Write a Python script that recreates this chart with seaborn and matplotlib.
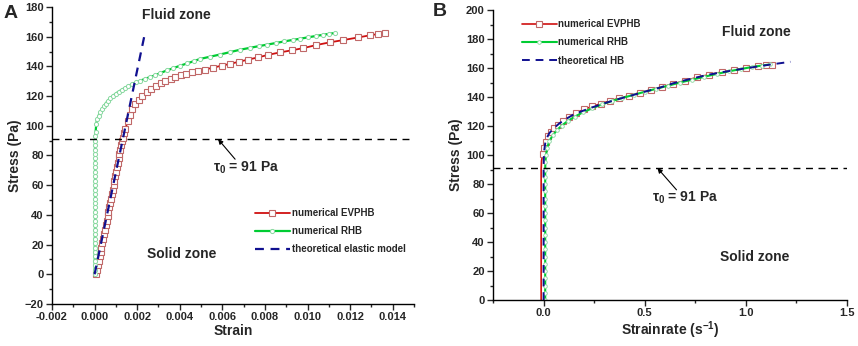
import numpy as np
import pandas as pd
import matplotlib
matplotlib.use("Agg")
import matplotlib.pyplot as plt
from matplotlib.ticker import MultipleLocator
import seaborn as sns

# ---- panel A: stress vs strain ----
evp_strain = [0.00008, 0.00012, 0.00016, 0.00020, 0.00024, 0.00028, 0.00032, 0.00036, 0.00040,
              0.00044, 0.00048, 0.00053, 0.00057, 0.00061, 0.00065, 0.00069, 0.00073, 0.00077,
              0.00081, 0.00085, 0.00089, 0.00093, 0.00097, 0.00101, 0.00105, 0.00109, 0.00113,
              0.00117, 0.00121, 0.00125, 0.00129, 0.00133,
              0.00138, 0.00145, 0.00155, 0.00165, 0.00178, 0.00192, 0.00208, 0.00225, 0.00245,
              0.00265, 0.00287, 0.00310, 0.00333, 0.00357, 0.00380, 0.00405, 0.00430, 0.00457,
              0.00488, 0.00519, 0.00558, 0.00597, 0.00636, 0.00680, 0.00722, 0.00769, 0.00816,
              0.00870, 0.00925, 0.00980, 0.01042, 0.01105, 0.01167, 0.01238, 0.01292, 0.01331,
              0.01363]
evp_stress = [0, 3, 6, 9, 12, 15, 18, 21, 24, 27, 30, 33, 36, 39, 42, 45, 48, 51, 54, 57, 60,
              63, 66, 69, 72, 75, 78, 81, 84, 87, 90, 92,
              95, 98, 103, 107, 111, 114.5, 117.5, 120, 122.5, 124.5, 126.5, 128.5, 130, 131.5,
              132.8, 134, 135, 136.2, 137.2, 137.9, 139.2, 140.5, 141.7, 143.2, 144.6, 146.1,
              147.8, 149.4, 150.8, 152.3, 154.4, 156.2, 157.7, 159.5, 160.9, 161.8, 162.5]

rhb_strain = [0.00000, 0.00001, 0.00001, 0.00001, 0.00001, 0.00001, 0.00001, 0.00001, 0.00001,
              0.00002, 0.00002, 0.00002, 0.00002, 0.00002, 0.00002, 0.00002, 0.00002, 0.00002,
              0.00002, 0.00002, 0.00002, 0.00002, 0.00002, 0.00002, 0.00002, 0.00002, 0.00002,
              0.00002, 0.00002, 0.00002, 0.00002, 0.00003,
              0.00005, 0.00008, 0.00013, 0.00019, 0.00026, 0.00034, 0.00042, 0.00052, 0.00062,
              0.00074, 0.00087, 0.00100, 0.00113, 0.00127, 0.00142, 0.00159, 0.00176, 0.00195,
              0.00215, 0.00237, 0.00260, 0.00285, 0.00308, 0.00340, 0.00370, 0.00402, 0.00435,
              0.00465, 0.00495, 0.00542, 0.00589, 0.00636, 0.00683, 0.00730, 0.00770, 0.00808,
              0.00850, 0.00890, 0.00930, 0.00964, 0.01000, 0.01040, 0.01075, 0.01100, 0.01130]
rhb_stress = [0, 3, 6, 9, 12, 15, 18, 21, 24, 27, 30, 33, 36, 39, 42, 45, 48, 51, 54, 57, 60,
              63, 66, 69, 72, 75, 78, 81, 84, 87, 90, 93,
              96, 101.5, 104.5, 106.8, 109, 111, 113, 115, 116.8, 118.7, 120.3, 121.7, 123,
              124.2, 125.5, 126.8, 128, 129.2, 130.4, 131.6, 132.8, 134, 135.5, 137.3, 138.8,
              140.5, 142, 143.5, 145, 146.5, 148, 149.6, 151.2, 152.5, 153.6, 154.6, 155.7,
              156.8, 157.8, 158.6, 159.5, 160.5, 161.3, 161.9, 162.5]

elastic_strain = [0.0, 0.00233]
elastic_stress = [0, 160]

# ---- panel B: stress vs strain rate ----
evp_rate = [-0.012, -0.012, -0.012, -0.010, -0.004, 0.002, 0.010, 0.022, 0.037, 0.052, 0.072,
            0.097, 0.127, 0.162, 0.200, 0.240, 0.285, 0.330, 0.375, 0.420, 0.475, 0.530, 0.585,
            0.640, 0.700, 0.760, 0.820, 0.880, 0.940, 1.000, 1.060, 1.100, 1.130]
evp_stress_b = [0, 50, 90, 96, 101, 105, 109, 113, 116, 118.5, 121, 123.8, 126.5, 129, 131.5,
                133.5, 135.5, 137.4, 139.2, 140.8, 143, 145, 147, 149, 151.3, 153.6, 155.5,
                157.2, 158.6, 159.9, 161.2, 161.9, 162.4]

rhb_rate = [0.008, 0.008, 0.008, 0.008, 0.008, 0.008, 0.008, 0.008, 0.008, 0.008, 0.008,
            0.008, 0.008, 0.008, 0.008, 0.008, 0.008, 0.008, 0.008, 0.009, 0.012, 0.018,
            0.028, 0.045, 0.065, 0.090, 0.120, 0.155, 0.195, 0.240, 0.290, 0.340, 0.390,
            0.445, 0.500, 0.555, 0.615, 0.675, 0.735, 0.795, 0.855, 0.915, 0.975, 1.030,
            1.080, 1.120]
rhb_stress_b = [0, 5, 10, 15, 20, 25, 30, 35, 40, 45, 50, 55, 60, 65, 70, 75, 80, 85, 90,
                95, 100, 105, 109.5, 113.5, 117, 120.3, 123.5, 126.5, 129.5, 132.2, 135,
                137.3, 139.4, 141.5, 143.6, 145.6, 147.8, 150, 152, 154, 155.9, 157.7, 159.3,
                160.7, 161.7, 162.5]

hb_rate = [0.0, 0.0, 0.001, 0.003, 0.008, 0.015, 0.028, 0.05, 0.078, 0.11, 0.144, 0.185, 0.227,
           0.275, 0.326, 0.375, 0.426, 0.475, 0.517, 0.575, 0.641, 0.72, 0.807, 0.89, 0.972,
           1.05, 1.121, 1.22]
hb_stress = [0, 91, 97, 103, 108, 111.5, 115, 118.5, 121.8, 124.8, 127.6, 130, 132.2, 134.5,
             136.8, 138.8, 140.7, 142.7, 144.3, 146.5, 149.5, 152.3, 155.2, 157.3, 159.2,
             160.9, 162.4, 164.3]

tau0 = 91

xticksA = [-0.002, 0.000, 0.002, 0.004, 0.006, 0.008, 0.010, 0.012, 0.014]
xticksB = [0.0, 0.5, 1.0, 1.5]

sns.set_style("ticks")
plt.rcParams["font.family"] = ["Liberation Sans", "DejaVu Sans"]
plt.rcParams["font.weight"] = "bold"
plt.rcParams["axes.labelweight"] = "bold"
plt.rcParams["mathtext.default"] = "regular"

fig = plt.figure(figsize=(8.58, 3.46), dpi=100)
axA = fig.add_axes([0.0606, 0.1214, 0.4219, 0.8584])
axB = fig.add_axes([0.5746, 0.1329, 0.4126, 0.8381])

red_line = "#d01010"
red_mark = "#c06868"
green_line = "#00cc33"
green_mark = "#88d8a0"
blue = "#101090"

# panel A
sns.lineplot(x=evp_strain, y=evp_stress, ax=axA, sort=False, estimator=None,
             color=red_line, lw=1.3, marker="s", ms=4.4, mfc="white", mec=red_mark,
             mew=0.8, label="numerical EVPHB")
sns.lineplot(x=rhb_strain, y=rhb_stress, ax=axA, sort=False, estimator=None,
             color=green_line, lw=1.6, marker="o", ms=3.0, mfc="white", mec=green_mark,
             mew=0.7, label="numerical RHB")
sns.lineplot(x=elastic_strain, y=elastic_stress, ax=axA, sort=False, estimator=None,
             color=blue, lw=1.6, ls=(0, (4, 3)), label="theoretical elastic model")
axA.axhline(tau0, color="black", lw=1.0, ls=(0, (5, 4)))

axA.set_xlim(-0.002, 0.015)
axA.set_ylim(-20, 180)
axA.xaxis.set_minor_locator(MultipleLocator(0.001))
axA.yaxis.set_major_locator(MultipleLocator(20))
axA.yaxis.set_minor_locator(MultipleLocator(10))
axA.set_xticks(xticksA)
axA.set_xticklabels(["%.3f" % v for v in xticksA])
axA.set_xlabel("Strain", fontsize=10, labelpad=1)
axA.set_ylabel("Stress (Pa)", fontsize=10, labelpad=2)
axA.text(0.00383, 174.5, "Fluid zone", fontsize=10, weight="bold", ha="center", va="center")
axA.text(0.0041, 13.5, "Solid zone", fontsize=10, weight="bold", ha="center", va="center")
axA.annotate("", xy=(0.0058, tau0), xytext=(0.0066, 77.5),
             arrowprops=dict(arrowstyle="-|>", color="black", lw=0.8,
                             mutation_scale=7, shrinkA=0, shrinkB=0))
axA.text(0.00556, 71.5, r"$\tau_0$ = 91 Pa", fontsize=10, weight="bold", ha="left", va="center")
axA.legend(loc="upper left", bbox_to_anchor=(0.555, 0.33), frameon=False,
           prop={"size": 7, "weight": "bold"}, handlelength=3.6, handletextpad=0.2,
           labelspacing=0.85, borderaxespad=0, borderpad=0.2)

# panel B
sns.lineplot(x=evp_rate, y=evp_stress_b, ax=axB, sort=False, estimator=None,
             color=red_line, lw=1.2, marker="s", ms=4.4, mfc="white", mec=red_mark,
             mew=0.8, markevery=list(range(4, len(evp_rate))), label="numerical EVPHB")
sns.lineplot(x=rhb_rate, y=rhb_stress_b, ax=axB, sort=False, estimator=None,
             color=green_line, lw=1.5, marker="o", ms=2.6, mfc="white", mec=green_mark,
             mew=0.6, label="numerical RHB")
sns.lineplot(x=hb_rate, y=hb_stress, ax=axB, sort=False, estimator=None,
             color=blue, lw=1.4, ls=(0, (4, 3)), label="theoretical HB")
axB.axhline(tau0, color="black", lw=1.0, ls=(0, (5, 4)))

axB.set_xlim(-0.25, 1.5)
axB.set_ylim(0, 200)
axB.xaxis.set_minor_locator(MultipleLocator(0.25))
axB.yaxis.set_major_locator(MultipleLocator(20))
axB.yaxis.set_minor_locator(MultipleLocator(10))
axB.set_xticks(xticksB)
axB.set_xticklabels(["%.1f" % v for v in xticksB])
axB.set_xlabel(r"Strainrate (s$^{-1}$)", fontsize=10, labelpad=1)
axB.set_ylabel("Stress (Pa)", fontsize=10, labelpad=2)
axB.text(1.05, 184.6, "Fluid zone", fontsize=10, weight="bold", ha="center", va="center")
axB.text(1.046, 30, "Solid zone", fontsize=10, weight="bold", ha="center", va="center")
axB.annotate("", xy=(0.563, tau0), xytext=(0.657, 76),
             arrowprops=dict(arrowstyle="-|>", color="black", lw=0.8,
                             mutation_scale=7, shrinkA=0, shrinkB=0))
axB.text(0.538, 70.8, r"$\tau_0$ = 91 Pa", fontsize=10, weight="bold", ha="left", va="center")
axB.legend(loc="upper left", bbox_to_anchor=(0.075, 0.975), frameon=False,
           prop={"size": 7, "weight": "bold"}, handlelength=3.6, handletextpad=0.2,
           labelspacing=0.85, borderaxespad=0, borderpad=0.2)

for ax in (axA, axB):
    sns.despine(ax=ax)
    ax.tick_params(which="major", direction="out", length=4, width=1, labelsize=8, pad=2)
    ax.tick_params(which="minor", direction="out", length=2.5, width=1)
    for s in ("left", "bottom"):
        ax.spines[s].set_linewidth(1.0)
        ax.spines[s].set_color("black")

fig.text(0.004, 0.985, "A", fontsize=14, weight="bold", ha="left", va="top")
fig.text(0.504, 0.992, "B", fontsize=14, weight="bold", ha="left", va="top")

fig.canvas.draw()
for ax in (axA, axB):
    for lab in ax.get_xticklabels() + ax.get_yticklabels():
        lab.set_fontweight("bold")

fig.savefig("out.png", dpi=100)
